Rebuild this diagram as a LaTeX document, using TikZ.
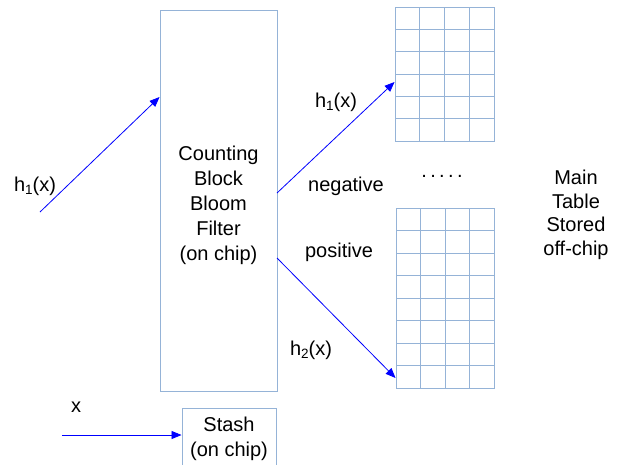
\documentclass[tikz,border=0pt]{standalone}
\usepackage{fontspec}
\setmainfont{Liberation Sans}
\usetikzlibrary{arrows.meta}
\usetikzlibrary{positioning}
\definecolor{boxline}{RGB}{149,179,215}
\definecolor{arrowblue}{RGB}{0,0,255}
\newcommand{\hsub}[1]{h\raisebox{-0.35ex}{\fontsize{13.5}{13.5}\selectfont #1}(x)}

\begin{document}
\begin{tikzpicture}[x=1pt,y=-1pt,
    blk/.style={draw=boxline,line width=0.9pt,inner sep=0pt},
    arr/.style={arrowblue,line width=0.8pt,-{Triangle[length=10pt,width=8pt]}},
    lbl/.style={font=\fontsize{20}{25}\selectfont,align=center,inner sep=0pt}]
    \useasboundingbox (0,0) rectangle (628,464);
    %
    \node[blk,minimum width=117pt,minimum height=381pt] (cbbf) at (218.5,200.5) {};
    \node[lbl] (cbbftext) at (218.5,205) {Counting\\Block\\Bloom\\Filter\\(on chip)};
    \node[blk,minimum width=94pt,minimum height=64pt] (stash) at (229,440) {};
    \node[lbl,text depth=0pt] (stashtext) at (229,437) {Stash\\(on chip)};
    %
    \node[blk,minimum width=99pt,minimum height=134pt] (tabone) at (444.5,74) {};
    \foreach \i in {1,2,3}
      \draw[boxline,line width=0.9pt] (395+24.75*\i,7) -- (395+24.75*\i,141);
    \foreach \j in {1,...,5}
      \draw[boxline,line width=0.9pt] (395,7+22.33*\j) -- (494,7+22.33*\j);
    \node[blk,minimum width=98pt,minimum height=180pt] (tabtwo) at (445,298) {};
    \foreach \i in {1,2,3}
      \draw[boxline,line width=0.9pt] (396+24.5*\i,208) -- (396+24.5*\i,388);
    \foreach \j in {1,...,7}
      \draw[boxline,line width=0.9pt] (396,208+22.5*\j) -- (494,208+22.5*\j);
    %
    \coordinate (hin) at (40,212);
    \coordinate (xin) at (62,435);
    \coordinate (negout) at (277,193);
    \coordinate (posout) at (277,258);
    \draw[arr] (hin) -- (cbbf.west |- 0,97);
    \draw[arr] (xin) -- (stash.west |- xin);
    \draw[arr] (negout) -- (tabone.west |- 0,82);
    \draw[arr] (posout) -- (tabtwo.west |- 0,378);
    %
    \node[lbl] (hinlbl) at (35,186) {\hsub{1}};
    \node[lbl] (xlbl) at (76,407) {x};
    \node[lbl] (honelbl) at (336,102) {\hsub{1}};
    \node[lbl] (htwolbl) at (311,350) {\hsub{2}};
    \node[lbl] (neglbl) at (346,186) {negative};
    \node[lbl] (poslbl) at (339,252) {positive};
    \node[lbl] (dots) at (442,176) {.\,.\,.\,.\,.};
    \node[lbl,font=\fontsize{20}{23.5}\selectfont] (maintext) at (576,215) {Main\\Table\\Stored\\off-chip};
\end{tikzpicture}
\end{document}
